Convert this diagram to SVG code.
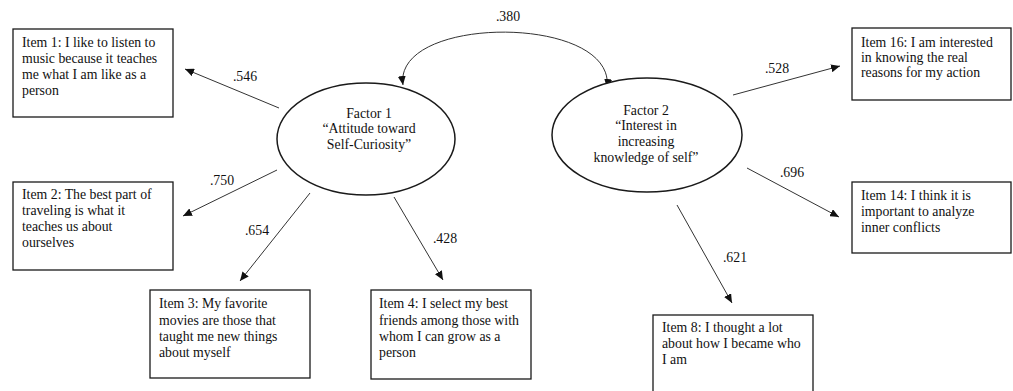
<svg xmlns="http://www.w3.org/2000/svg" width="1013" height="391" viewBox="0 0 1013 391">
<style>
.box{fill:#fff;stroke:#1a1a1a;stroke-width:1.3}
.lat{fill:#fff;stroke:#1a1a1a;stroke-width:1.5}
.t{font-family:"Liberation Serif","Times New Roman",serif;font-size:13.8px;fill:#111}
.c{text-anchor:middle}
.ln{fill:none;stroke:#333;stroke-width:1}
</style>
<defs>
<marker id="ah" markerUnits="userSpaceOnUse" markerWidth="10" markerHeight="8" refX="9" refY="4" orient="auto">
<path d="M0,0 L9,4 L0,8 Z" fill="#111"/>
</marker>
<marker id="ahs" markerUnits="userSpaceOnUse" markerWidth="10" markerHeight="8" refX="9" refY="4" orient="auto-start-reverse">
<path d="M0,0 L9,4 L0,8 Z" fill="#111"/>
</marker>
</defs>
<rect width="1013" height="391" fill="#fff"/>
<g id="connectors">
<path class="ln" d="M403,85 C393,14 617,14 607,88" marker-start="url(#ahs)" marker-end="url(#ah)"/>
<line class="ln" x1="279" y1="108" x2="185" y2="69" marker-end="url(#ah)"/>
<line class="ln" x1="277" y1="170" x2="183" y2="216" marker-end="url(#ah)"/>
<line class="ln" x1="310" y1="193" x2="240" y2="281" marker-end="url(#ah)"/>
<line class="ln" x1="394" y1="197" x2="443" y2="280" marker-end="url(#ah)"/>
<line class="ln" x1="733" y1="95" x2="840" y2="66" marker-end="url(#ah)"/>
<line class="ln" x1="747" y1="168" x2="839" y2="217" marker-end="url(#ah)"/>
<line class="ln" x1="677" y1="205" x2="732" y2="303" marker-end="url(#ah)"/>
<text class="t c" x="508" y="21">.380</text>
<text class="t c" x="245" y="81">.546</text>
<text class="t c" x="222" y="185">.750</text>
<text class="t c" x="257" y="235">.654</text>
<text class="t c" x="445" y="243">.428</text>
<text class="t c" x="777" y="73">.528</text>
<text class="t c" x="792" y="177">.696</text>
<text class="t c" x="735" y="262">.621</text>
</g>
<g id="factor1">
<ellipse class="lat" cx="366" cy="139" rx="89" ry="56"/>
<text class="t c" x="369" y="118">Factor 1</text>
<text class="t c" x="369" y="133">“Attitude toward</text>
<text class="t c" x="369" y="149">Self-Curiosity”</text>
</g>
<g id="factor2">
<ellipse class="lat" cx="647" cy="135" rx="95" ry="57"/>
<text class="t c" x="646" y="115">Factor 2</text>
<text class="t c" x="646" y="130">“Interest in</text>
<text class="t c" x="646" y="146">increasing</text>
<text class="t c" x="646" y="162">knowledge of self”</text>
</g>
<g id="item1">
<rect class="box" x="13" y="29" width="160" height="88"/>
<text class="t" x="22" y="47">Item 1: I like to listen to</text>
<text class="t" x="22" y="63">music because it teaches</text>
<text class="t" x="22" y="79">me what I am like as a</text>
<text class="t" x="22" y="95">person</text>
</g>
<g id="item2">
<rect class="box" x="13" y="182" width="160" height="88"/>
<text class="t" x="22" y="199">Item 2: The best part of</text>
<text class="t" x="22" y="215">traveling is what it</text>
<text class="t" x="22" y="231">teaches us about</text>
<text class="t" x="22" y="247">ourselves</text>
</g>
<g id="item3">
<rect class="box" x="150" y="290" width="160" height="88"/>
<text class="t" x="159" y="308">Item 3: My favorite</text>
<text class="t" x="159" y="325">movies are those that</text>
<text class="t" x="159" y="341">taught me new things</text>
<text class="t" x="159" y="357">about myself</text>
</g>
<g id="item4">
<rect class="box" x="371" y="290" width="160" height="89"/>
<text class="t" x="379" y="308">Item 4: I select my best</text>
<text class="t" x="379" y="325">friends among those with</text>
<text class="t" x="379" y="341">whom I can grow as a</text>
<text class="t" x="379" y="357">person</text>
</g>
<g id="item16">
<rect class="box" x="852" y="28" width="159" height="72"/>
<text class="t" x="861" y="47">Item 16: I am interested</text>
<text class="t" x="861" y="62">in knowing the real</text>
<text class="t" x="861" y="77">reasons for my action</text>
</g>
<g id="item14">
<rect class="box" x="852" y="182" width="159" height="71"/>
<text class="t" x="861" y="200">Item 14: I think it is</text>
<text class="t" x="861" y="216">important to analyze</text>
<text class="t" x="861" y="232">inner conflicts</text>
</g>
<g id="item8">
<rect class="box" x="653" y="315" width="160" height="82"/>
<text class="t" x="662" y="332">Item 8: I thought a lot</text>
<text class="t" x="662" y="348">about how I became who</text>
<text class="t" x="662" y="364">I am</text>
</g>
</svg>
